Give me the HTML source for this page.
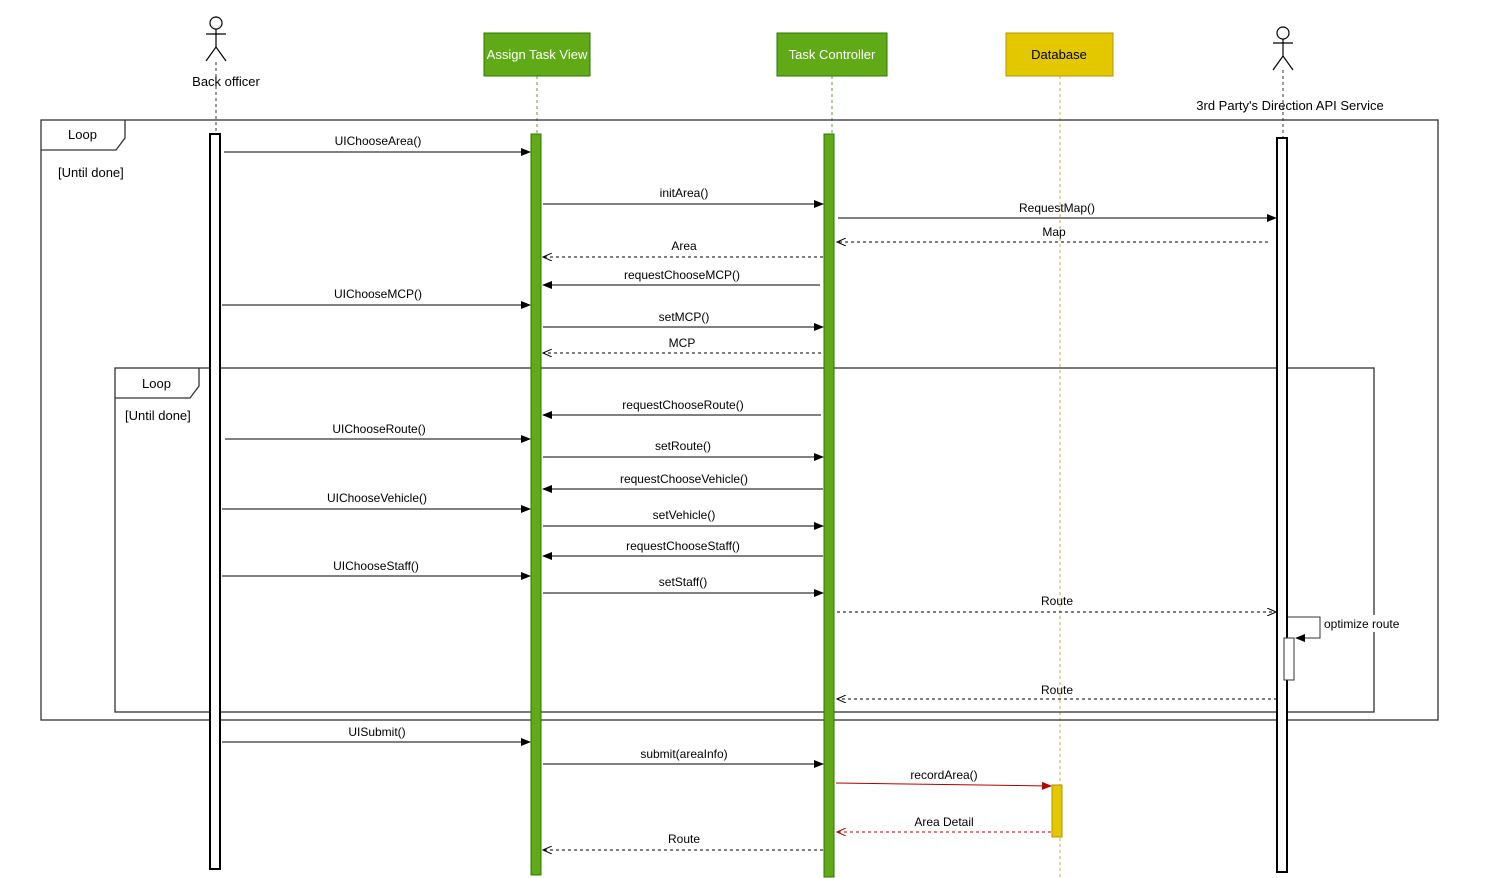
<!DOCTYPE html>
<html><head><meta charset="utf-8"><style>body{margin:0;background:#fff}svg{display:block;font-family:"Liberation Sans",Arial,sans-serif}</style></head>
<body>
<svg width="1493" height="878" viewBox="0 0 1493 878" xmlns="http://www.w3.org/2000/svg">
<defs>
<marker id="a" markerWidth="10" markerHeight="8" refX="9" refY="4" orient="auto" markerUnits="userSpaceOnUse"><path d="M0,0L10,4L0,8z" fill="#000"/></marker>
<marker id="ar" markerWidth="10" markerHeight="8" refX="9" refY="4" orient="auto" markerUnits="userSpaceOnUse"><path d="M0,0L10,4L0,8z" fill="#b20000"/></marker>
<marker id="o" markerWidth="10" markerHeight="8" refX="9" refY="4" orient="auto" markerUnits="userSpaceOnUse"><path d="M0,0L9,4L0,8" fill="none" stroke="#000"/></marker>
<marker id="or" markerWidth="10" markerHeight="8" refX="9" refY="4" orient="auto" markerUnits="userSpaceOnUse"><path d="M0,0L9,4L0,8" fill="none" stroke="#b20000"/></marker>
</defs>
<g stroke-dasharray="3,3" stroke-width="1">
<line x1="216" y1="62" x2="216" y2="134" stroke="#333"/>
<line x1="537" y1="76" x2="537" y2="134" stroke="#6a9a3a"/>
<line x1="832" y1="76" x2="832" y2="134" stroke="#6a9a3a"/>
<line x1="1060" y1="76" x2="1060" y2="878" stroke="#c8b040"/>
<line x1="1283" y1="70" x2="1283" y2="138" stroke="#333"/>
</g>
<g fill="none" stroke="#333" stroke-width="1.3">
<rect x="41" y="120" width="1397" height="600"/>
<path d="M41,150H116L125,138V120"/>
<rect x="115" y="368" width="1259" height="344"/>
<path d="M115,398H190L199,386V368"/>
</g>
<g font-size="13" fill="#000">
<text x="68" y="139">Loop</text>
<text x="58" y="177">[Until done]</text>
<text x="142" y="388">Loop</text>
<text x="125" y="420">[Until done]</text>
</g>
<rect x="484" y="33" width="106" height="43" fill="#60a917" stroke="#2d7600"/>
<text x="537" y="59" font-size="13" fill="#fff" text-anchor="middle">Assign Task View</text>
<rect x="777" y="33" width="110" height="43" fill="#60a917" stroke="#2d7600"/>
<text x="832" y="59" font-size="13" fill="#fff" text-anchor="middle">Task Controller</text>
<rect x="1006" y="33" width="107" height="43" fill="#e3c800" stroke="#b09500"/>
<text x="1059" y="59" font-size="13" fill="#000" text-anchor="middle">Database</text>
<g fill="none" stroke="#000" stroke-width="1.2">
<circle cx="216" cy="23" r="6"/><path d="M216,29V47M206,34H226M206,61L216,47L226,61"/>
<circle cx="1283" cy="33" r="6"/><path d="M1283,39V56M1273,43H1293M1273,70L1283,56L1293,70"/>
</g>
<text x="226" y="86" font-size="13" text-anchor="middle">Back officer</text>
<text x="1290" y="110" font-size="13" text-anchor="middle">3rd  Party's Direction API Service</text>
<rect x="210" y="134" width="10" height="735" fill="#fff" stroke="#000" stroke-width="2"/>
<rect x="531" y="134" width="10" height="741" fill="#60a917" stroke="#2d7600"/>
<rect x="824" y="134" width="10" height="743" fill="#60a917" stroke="#2d7600"/>
<rect x="1277" y="138" width="10" height="734" fill="#fff" stroke="#000" stroke-width="2"/>
<rect x="1284" y="638" width="10" height="42" fill="#fff" stroke="#333"/>
<rect x="1052" y="785" width="10" height="52" fill="#e3c800" stroke="#b09500"/>
<path d="M1288,617H1320V638H1296" fill="none" stroke="#333" marker-end="url(#a)"/>
<rect x="1323" y="615" width="76" height="17" fill="#fff"/>
<text x="1324" y="628" font-size="12">optimize route</text>
<g stroke="#000" stroke-width="1" fill="none">
<line x1="224" y1="152" x2="530" y2="152" marker-end="url(#a)"/>
<line x1="543" y1="204" x2="823" y2="204" marker-end="url(#a)"/>
<line x1="838" y1="218" x2="1276" y2="218" marker-end="url(#a)"/>
<line x1="1268" y1="242" x2="837" y2="242" stroke-dasharray="3,3" marker-end="url(#o)"/>
<line x1="823" y1="257" x2="543" y2="257" stroke-dasharray="3,3" marker-end="url(#o)"/>
<line x1="820" y1="285" x2="543" y2="285" marker-end="url(#a)"/>
<line x1="222" y1="305" x2="530" y2="305" marker-end="url(#a)"/>
<line x1="543" y1="327" x2="823" y2="327" marker-end="url(#a)"/>
<line x1="821" y1="353" x2="543" y2="353" stroke-dasharray="3,3" marker-end="url(#o)"/>
<line x1="821" y1="415" x2="543" y2="415" marker-end="url(#a)"/>
<line x1="225" y1="439" x2="530" y2="439" marker-end="url(#a)"/>
<line x1="543" y1="457" x2="823" y2="457" marker-end="url(#a)"/>
<line x1="823" y1="489" x2="543" y2="489" marker-end="url(#a)"/>
<line x1="222" y1="509" x2="530" y2="509" marker-end="url(#a)"/>
<line x1="543" y1="526" x2="823" y2="526" marker-end="url(#a)"/>
<line x1="823" y1="556" x2="543" y2="556" marker-end="url(#a)"/>
<line x1="222" y1="576" x2="530" y2="576" marker-end="url(#a)"/>
<line x1="543" y1="593" x2="823" y2="593" marker-end="url(#a)"/>
<line x1="837" y1="612" x2="1276" y2="612" stroke-dasharray="3,3" marker-end="url(#o)"/>
<line x1="1277" y1="699" x2="837" y2="699" stroke-dasharray="3,3" marker-end="url(#o)"/>
<line x1="222" y1="742" x2="530" y2="742" marker-end="url(#a)"/>
<line x1="543" y1="764" x2="823" y2="764" marker-end="url(#a)"/>
<line x1="836" y1="783" x2="1051" y2="786" stroke="#b20000" marker-end="url(#ar)"/>
<line x1="1051" y1="832" x2="837" y2="832" stroke="#b20000" stroke-dasharray="3,3" marker-end="url(#or)"/>
<line x1="823" y1="850" x2="543" y2="850" stroke-dasharray="3,3" marker-end="url(#o)"/>
</g>
<g font-size="12" text-anchor="middle" fill="#000">
<text x="378" y="145">UIChooseArea()</text>
<text x="684" y="197">initArea()</text>
<text x="1057" y="212">RequestMap()</text>
<text x="1054" y="236">Map</text>
<text x="684" y="250">Area</text>
<text x="682" y="279">requestChooseMCP()</text>
<text x="378" y="298">UIChooseMCP()</text>
<text x="684" y="321">setMCP()</text>
<text x="682" y="347">MCP</text>
<text x="683" y="409">requestChooseRoute()</text>
<text x="379" y="433">UIChooseRoute()</text>
<text x="683" y="450">setRoute()</text>
<text x="684" y="483">requestChooseVehicle()</text>
<text x="377" y="502">UIChooseVehicle()</text>
<text x="684" y="519">setVehicle()</text>
<text x="683" y="550">requestChooseStaff()</text>
<text x="376" y="570">UIChooseStaff()</text>
<text x="683" y="586">setStaff()</text>
<text x="1057" y="605">Route</text>
<text x="1057" y="694">Route</text>
<text x="377" y="736">UISubmit()</text>
<text x="684" y="758">submit(areaInfo)</text>
<text x="944" y="779">recordArea()</text>
<text x="944" y="826">Area Detail</text>
<text x="684" y="843">Route</text>
</g>
</svg>
</body></html>
